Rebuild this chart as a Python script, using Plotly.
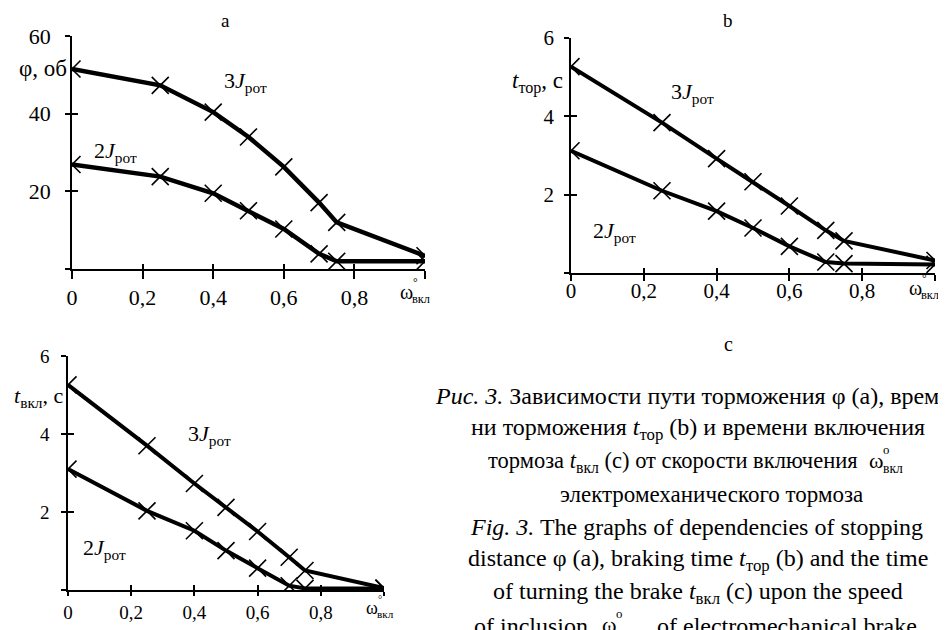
import plotly.graph_objects as go

W, H = 946, 630
OX, OY = 8, 8          # the page body adds an 8px margin; compensate it
SERIF = "Liberation Serif"

# ---- data ----
omega = [0, 0.25, 0.4, 0.5, 0.6, 0.7, 0.75, 1.0]
phi_3J = [51.5, 47.3, 40.4, 34.0, 26.3, 17.1, 12.0, 3.4]
phi_2J = [26.9, 23.8, 19.5, 15.0, 10.3, 3.9, 2.0, 2.0]
ttor_3J = [5.27, 3.84, 2.92, 2.33, 1.71, 1.09, 0.82, 0.32]
ttor_2J = [3.12, 2.10, 1.58, 1.15, 0.68, 0.28, 0.24, 0.22]
tvkl_3J = [5.26, 3.70, 2.73, 2.12, 1.50, 0.84, 0.50, 0.05]
tvkl_2J = [3.10, 2.03, 1.52, 1.01, 0.56, 0.11, 0.04, 0.04]

x_ticks = [0, 0.2, 0.4, 0.6, 0.8, 1.0]
x_ticktext = ["0", "0,2", "0,4", "0,6", "0,8", ""]
ya_ticks = [0, 20, 40, 60]
ya_ticktext = ["", "20", "40", "60"]
yt_ticks = [0, 2, 4, 6]
yt_ticktext = ["", "2", "4", "6"]

fig = go.Figure()

def px_dom(a, b, total, off, flip=False):
    a, b = a - off, b - off
    if flip:
        return [1 - b / total, 1 - a / total]
    return [a / total, b / total]

panels = [
    dict(i=1, xd=(72, 425), yd=(36, 269), yr=[0, 60], yt=ya_ticks, ytt=ya_ticktext,
         s=[phi_3J, phi_2J], lw=4.5, fs=22, xtl=8, xst=0, yst=10),
    dict(i=2, xd=(571, 935), yd=(38, 273), yr=[0, 6], yt=yt_ticks, ytt=yt_ticktext,
         s=[ttor_3J, ttor_2J], lw=4, fs=21, xtl=6, xst=-8, yst=6),
    dict(i=3, xd=(68, 384), yd=(356, 590), yr=[0, 6], yt=yt_ticks, ytt=yt_ticktext,
         s=[tvkl_3J, tvkl_2J], lw=4, fs=19, xtl=4, xst=0, yst=8),
]

for p in panels:
    i = p["i"]
    j = i + 3
    xs = "" if i == 1 else str(i)
    xa, ya = "x" + xs, "y" + xs
    for ser in p["s"]:
        fig.add_trace(go.Scatter(
            x=omega, y=ser, xaxis=xa, yaxis=ya, mode="lines+markers",
            line=dict(color="black", width=p["lw"]),
            marker=dict(symbol="x-thin-open", size=17, line=dict(color="black", width=1.6)),
            cliponaxis=True, showlegend=False, hoverinfo="skip"))
    # dummy trace for the overlay axes that draw the inner half of the ticks
    fig.add_trace(go.Scatter(x=[None], y=[None], xaxis="x" + str(j), yaxis="y" + str(j),
                             showlegend=False, hoverinfo="skip"))
    common_x = dict(domain=px_dom(*p["xd"], W, OX), range=[0, 1], tickvals=x_ticks,
                    showgrid=False, zeroline=False, fixedrange=True, automargin=False)
    common_y = dict(domain=px_dom(*p["yd"], H, OY, flip=True), range=p["yr"], tickvals=p["yt"],
                    showgrid=False, zeroline=False, fixedrange=True, automargin=False)
    fig.layout["xaxis" + xs] = dict(
        **common_x, anchor=ya, ticktext=x_ticktext, ticks="outside", ticklen=p["xtl"], tickwidth=1.5,
        tickcolor="black", showline=True, linecolor="black", linewidth=1.5,
        tickfont=dict(family=SERIF, size=p["fs"], color="black"), ticklabelstandoff=p["xst"])
    fig.layout["yaxis" + xs] = dict(
        **common_y, anchor=xa, ticktext=p["ytt"], ticks="outside", ticklen=5, tickwidth=1.5,
        tickcolor="black", showline=True, linecolor="black", linewidth=1.5,
        tickfont=dict(family=SERIF, size=p["fs"], color="black"), ticklabelstandoff=p["yst"])
    fig.layout["xaxis" + str(j)] = dict(
        **common_x, overlaying=xa, anchor="y" + str(j), ticks="inside", ticklen=5, tickwidth=1.5,
        tickcolor="black", showline=False, showticklabels=False)
    fig.layout["yaxis" + str(j)] = dict(
        **common_y, overlaying=ya, anchor="x" + str(j), ticks="inside", ticklen=6, tickwidth=1.5,
        tickcolor="black", showline=False, showticklabels=False)


def ann(text, x, y, size, xanchor="center", yanchor="middle"):
    fig.add_annotation(text=text, x=(x - OX) / W, y=1 - (y - OY) / H, xref="paper", yref="paper",
                       showarrow=False, xanchor=xanchor, yanchor=yanchor,
                       font=dict(family=SERIF, size=size, color="black"))


def omega_label(x, y, size, deg="°"):
    ann("ω", x, y, size, xanchor="left")
    ann(deg, x + size * 0.64, y - size * 0.5, size * 0.58, xanchor="left")
    ann("вкл", x + size * 0.62, y + size * 0.35, size * 0.62, xanchor="left")

# panel letters
ann("a", 225, 20, 19)
ann("b", 728, 20, 19)
ann("c", 728, 344, 20)

# axis titles
ann("φ, об", 69, 68, 23, xanchor="right")
ann("<i>t</i><sub>тор</sub>, с", 565, 82, 23, xanchor="right")
ann("<i>t</i><sub>вкл</sub>, с", 66, 397, 22, xanchor="right")

# omega labels at x ends
omega_label(398, 292, 20)
omega_label(907, 288, 20)
omega_label(364, 608, 18)

# curve labels
J3 = "3<i>J</i><sub>рот</sub>"
J2 = "2<i>J</i><sub>рот</sub>"
ann(J3, 245, 82, 22)
ann(J2, 115, 152, 22)
ann(J3, 692, 93, 22)
ann(J2, 614, 232, 22)
ann(J3, 209, 435, 22)
ann(J2, 104, 549, 22)

# caption
CF = 24
LY = [396 + 32.8 * k for k in range(8)]
ann("<i>Рис. 3.</i> Зависимости пути торможения φ (а), време-", 433, LY[0], CF, xanchor="left")
ann("ни торможения <i>t</i><sub>тор</sub> (b) и времени включения", 698, LY[1], CF)
ann("тормоза <i>t</i><sub>вкл</sub> (c) от скорости включения", 860, LY[2], 22.5, xanchor="right")
omega_label(867, LY[2] - 1, 22, deg="o")
ann("электромеханического тормоза", 711, LY[3], 23)
ann("<i>Fig. 3.</i> The graphs of dependencies of stopping", 696, LY[4], CF)
ann("distance φ (a), braking time <i>t</i><sub>тор</sub> (b) and the time", 698, LY[5], CF)
ann("of turning the brake <i>t</i><sub>вкл</sub> (c) upon the speed", 698, LY[6], CF)
ann("of inclusion", 590, LY[7], CF, xanchor="right")
omega_label(600, LY[7] - 1, 22, deg="o")
ann("of electromechanical brake", 655, LY[7], CF, xanchor="left")

fig.update_layout(width=W, height=H, margin=dict(l=0, r=0, t=0, b=0, autoexpand=False),
                  paper_bgcolor="white", plot_bgcolor="white", showlegend=False)
fig.write_html("out.html")
